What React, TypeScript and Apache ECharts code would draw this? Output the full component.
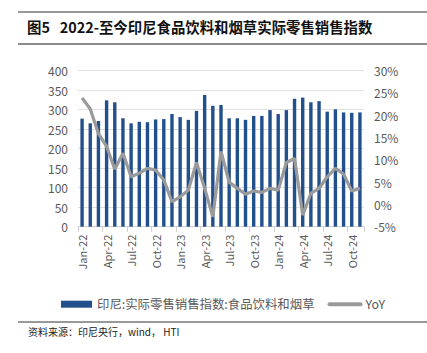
import React, { useEffect, useRef } from "react";
import * as echarts from "echarts";

const months = ["Jan", "Feb", "Mar", "Apr", "May", "Jun", "Jul", "Aug", "Sep", "Oct", "Nov", "Dec"];
const categories: string[] = [];
for (const y of ["22", "23", "24"]) for (const m of months) categories.push(`${m}-${y}`);
categories.length = 35; // Jan-22 .. Nov-24

const indexValues = [
  277, 265, 271, 324, 319, 278, 265, 269, 268, 275, 276, 289,
  281, 274, 297, 338, 310, 312, 278, 278, 274, 284, 284, 299,
  289, 299, 328, 331, 319, 322, 295, 301, 293, 292, 293,
];

const yoyValues = [
  23.9, 21.4, 15.9, 13.0, 7.9, 11.5, 6.2, 7.0, 8.1, 7.7, 5.5, 0.6,
  1.7, 3.2, 9.4, 3.6, -2.8, 11.9, 5.0, 3.6, 2.3, 3.0, 2.7, 3.6,
  3.2, 9.4, 10.3, -2.4, 2.5, 3.6, 6.2, 8.1, 6.8, 3.0, 3.6,
];

const barName = "印尼:实际零售销售指数:食品饮料和烟草";
const lineName = "YoY";
const titleText = "图5   2022-至今印尼食品饮料和烟草实际零售销售指数";
const sourceText = "资料来源：印尼央行，wind， HTI";

const FONT = "'Noto Sans CJK SC', 'Noto Sans', sans-serif";

export default function App() {
  const ref = useRef<HTMLDivElement>(null);
  useEffect(() => {
    if (!ref.current) return;
    const chart = echarts.init(ref.current, undefined, { renderer: "svg" });
    chart.setOption({
      animation: false,
      textStyle: { fontFamily: FONT },
      grid: { left: 78, right: 63, top: 70.7, bottom: 126.3, containLabel: false },
      legend: {
        left: 56,
        top: 293,
        itemGap: 13,
        itemWidth: 31,
        itemHeight: 7,
        textStyle: { color: "#595959", fontSize: 12.4, fontFamily: FONT },
        data: [
          { name: barName, icon: "rect" },
          {
            name: lineName,
            itemStyle: { opacity: 0 },
            lineStyle: { width: 4, cap: "round", color: "#9a9a9a" },
          },
        ],
      },
      xAxis: {
        type: "category",
        data: categories,
        axisLine: { lineStyle: { color: "#d0d0d0" } },
        axisTick: { show: true, interval: 2, length: 5, lineStyle: { color: "#d0d0d0" } },
        axisLabel: { interval: 2, rotate: 90, color: "#595959", fontSize: 11, margin: 8 },
      },
      yAxis: [
        {
          type: "value",
          min: 0,
          max: 400,
          interval: 50,
          axisLine: { show: false },
          axisTick: { show: false },
          splitLine: { lineStyle: { color: "#e0e0e0" } },
          axisLabel: { color: "#595959", fontSize: 12, margin: 10 },
        },
        {
          type: "value",
          min: -5,
          max: 30,
          interval: 5,
          axisLine: { show: false },
          axisTick: { show: false },
          splitLine: { show: false },
          axisLabel: { color: "#595959", fontSize: 12, margin: 10, formatter: "{value}%" },
        },
      ],
      series: [
        {
          name: barName,
          type: "bar",
          data: indexValues,
          barWidth: 3.4,
          itemStyle: { color: "#22508C" },
        },
        {
          name: lineName,
          type: "line",
          yAxisIndex: 1,
          data: yoyValues,
          symbol: "none",
          lineStyle: { color: "#9a9a9a", width: 3.2 },
          itemStyle: { color: "#9a9a9a" },
        },
      ],
      graphic: [
        { type: "line", shape: { x1: 18, y1: 12, x2: 427, y2: 12 }, style: { stroke: "#333", lineWidth: 1 } },
        { type: "line", shape: { x1: 18, y1: 44, x2: 427, y2: 44 }, style: { stroke: "#8c8c8c", lineWidth: 2 } },
        {
          type: "text",
          left: 27,
          top: 19,
          style: { text: titleText, fontSize: 14.4, fontWeight: "bold", fill: "#111", fontFamily: FONT },
        },
        { type: "line", shape: { x1: 18, y1: 322, x2: 427, y2: 322 }, style: { stroke: "#333", lineWidth: 1 } },
        {
          type: "text",
          left: 28,
          top: 326,
          style: { text: sourceText, fontSize: 10, fill: "#222", fontFamily: FONT },
        },
      ],
    });
    return () => chart.dispose();
  }, []);
  return <div ref={ref} style={{ width: 427, height: 353, position: "absolute", left: 0, top: 0 }} />;
}
